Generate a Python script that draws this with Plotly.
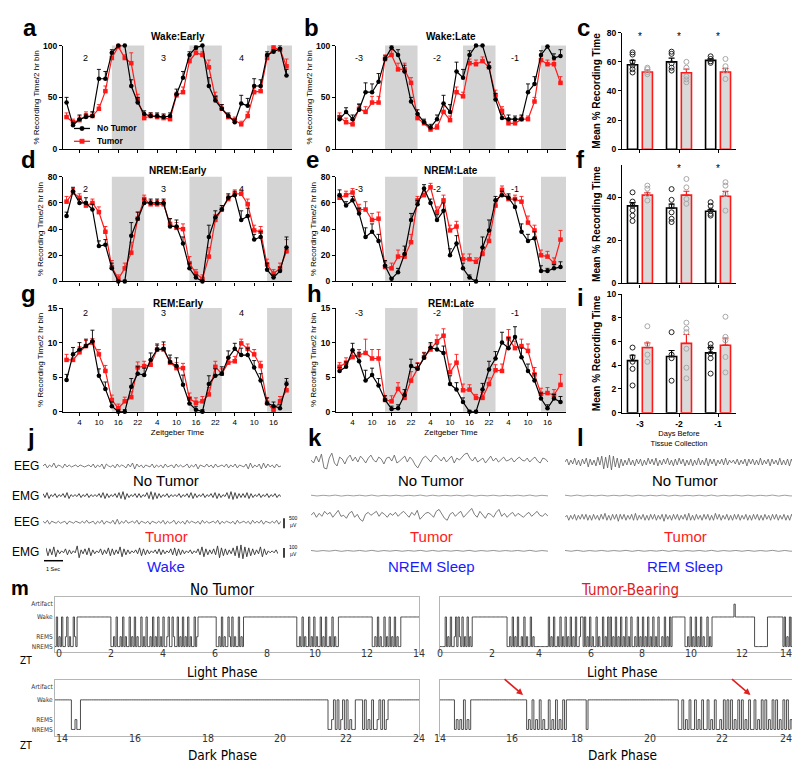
import plotly.graph_objects as go

W, H = 800, 762
FONT = "Liberation Sans, Arial, sans-serif"
NARROW = "Liberation Sans Narrow, Arial Narrow, DejaVu Sans Condensed, sans-serif"
RED = "#ff1a1a"
BLUE = "#1a1aff"
SHADE = "#d4d4d4"
TRACE = "#5a5a5a"

# ---------------- data: 2 hr bins (hours from ZT0 of first recorded day) ----------------
HOURS = list(range(0, 70, 2))
DARK_STARTS = [14, 38, 62]          # ZT14-24 = dark phase
DAY_LABEL_HOURS = [6, 30, 54]
EARLY_DAYS = ["2", "3", "4"]
LATE_DAYS = ["-3", "-2", "-1"]
ZT_TICKS = [4, 10, 16, 22, 28, 34, 40, 46, 52, 58, 64]

a_black = [45, 23, 29, 31, 32, 68, 68, 93, 100, 100, 61, 45, 34, 32, 32, 31, 32, 53, 69, 91, 98, 100, 61, 47, 39, 32, 26, 44, 42, 61, 61, 91, 94, 97, 71]
a_black_err = [5, 3, 4, 3, 4, 9, 7, 3, 1, 1, 6, 5, 3, 3, 3, 3, 3, 5, 6, 3, 2, 1, 8, 4, 4, 3, 3, 8, 7, 7, 6, 3, 2, 3, 6]
a_red = [31, 26, 28, 32, 32, 39, 56, 88, 99, 88, 83, 48, 30, 32, 31, 30, 29, 52, 55, 85, 93, 91, 79, 50, 39, 31, 28, 24, 32, 55, 56, 88, 98, 96, 80]
a_red_err = [4, 3, 4, 4, 4, 4, 5, 4, 1, 3, 10, 5, 3, 3, 3, 3, 3, 3, 5, 3, 3, 3, 7, 5, 4, 3, 3, 3, 4, 4, 4, 3, 2, 2, 7]

b_black = [29, 36, 29, 38, 55, 55, 65, 87, 98, 91, 75, 46, 34, 26, 21, 29, 44, 36, 75, 69, 91, 100, 100, 79, 48, 30, 29, 29, 29, 55, 63, 91, 99, 88, 90]
b_black_err = [3, 4, 4, 5, 9, 8, 8, 3, 2, 5, 6, 4, 4, 3, 3, 4, 8, 7, 9, 8, 4, 1, 1, 5, 6, 4, 4, 3, 4, 8, 7, 4, 3, 4, 6]
b_red = [31, 26, 24, 39, 36, 45, 45, 87, 91, 77, 77, 64, 30, 25, 19, 21, 36, 28, 55, 51, 83, 82, 85, 79, 52, 37, 25, 25, 29, 29, 46, 86, 82, 82, 64]
b_red_err = [4, 4, 4, 5, 5, 6, 6, 4, 4, 6, 6, 5, 4, 3, 3, 3, 5, 4, 5, 4, 4, 4, 4, 5, 5, 4, 3, 3, 3, 3, 4, 4, 4, 4, 6]

d_black = [50, 69, 60, 60, 55, 27, 28, 10, 0, 0, 35, 48, 60, 60, 60, 60, 42, 42, 29, 10, 3, 0, 34, 49, 55, 64, 66, 47, 50, 32, 34, 9, 3, 8, 26]
d_black_err = [3, 3, 3, 4, 4, 4, 4, 4, 1, 1, 10, 5, 3, 3, 3, 3, 6, 5, 5, 4, 2, 1, 9, 5, 3, 3, 3, 7, 6, 4, 4, 5, 2, 3, 8]
d_red = [61, 68, 64, 58, 60, 53, 38, 11, 2, 10, 22, 48, 63, 59, 59, 59, 44, 41, 40, 14, 6, 2, 19, 47, 55, 63, 67, 67, 59, 39, 38, 13, 6, 10, 23]
d_red_err = [4, 3, 3, 3, 3, 4, 4, 5, 3, 4, 8, 5, 3, 3, 3, 3, 4, 4, 4, 5, 3, 3, 7, 4, 3, 3, 3, 3, 4, 4, 4, 4, 3, 4, 9]

e_black = [66, 58, 62, 52, 34, 38, 31, 12, 2, 7, 21, 47, 59, 71, 60, 47, 54, 20, 29, 10, 3, 0, 26, 39, 62, 66, 64, 57, 38, 31, 33, 8, 8, 10, 11]
e_black_err = [4, 3, 3, 4, 7, 6, 5, 4, 1, 3, 6, 5, 3, 3, 3, 4, 6, 5, 6, 4, 2, 1, 8, 8, 3, 3, 3, 6, 6, 5, 5, 4, 2, 3, 4]
e_red = [64, 66, 68, 55, 55, 47, 48, 11, 10, 19, 19, 30, 62, 66, 72, 53, 62, 39, 42, 17, 17, 15, 21, 31, 58, 70, 63, 63, 61, 45, 39, 20, 19, 14, 32]
e_red_err = [3, 3, 3, 4, 6, 5, 5, 4, 4, 5, 5, 6, 3, 3, 3, 4, 4, 4, 4, 4, 4, 3, 5, 5, 4, 3, 3, 3, 4, 5, 4, 4, 4, 4, 7]

g_black = [4.6, 8.3, 9.0, 9.5, 10.2, 5.2, 3.3, 0.8, 0, 0, 3.6, 5.5, 5.3, 7.5, 9.0, 9.1, 7.2, 6.6, 3.9, 1.2, 0.3, 0, 4.0, 5.2, 5.5, 7.8, 9.1, 8.2, 8.2, 6.4, 4.5, 1.2, 0.8, 0.5, 4.0]
g_black_err = [0.8, 1.0, 1.0, 1.0, 1.6, 1.0, 1.0, 0.6, 0.3, 0.3, 1.2, 1.0, 1.0, 1.0, 0.8, 1.0, 1.0, 1.2, 1.4, 0.8, 0.5, 0.3, 1.2, 1.0, 1.0, 1.0, 0.8, 1.0, 1.0, 1.0, 1.0, 0.8, 0.6, 0.5, 0.8]
g_red = [7.5, 7.5, 8.6, 9.5, 10.0, 8.3, 5.9, 1.7, 0.5, 1.5, 2.1, 6.4, 6.6, 6.8, 9.0, 9.0, 7.1, 6.3, 6.3, 1.9, 1.3, 1.5, 2.5, 6.5, 5.5, 7.1, 7.3, 9.9, 9.1, 8.3, 6.6, 1.3, 0.2, 1.5, 3.1]
g_red_err = [0.8, 0.7, 0.8, 0.8, 0.6, 0.7, 0.8, 0.7, 0.6, 0.6, 0.8, 0.8, 0.7, 0.7, 0.6, 0.7, 0.7, 0.8, 0.7, 0.8, 0.7, 0.7, 1.0, 0.8, 0.7, 0.7, 0.7, 0.6, 0.7, 0.7, 0.7, 0.7, 0.6, 0.7, 1.3]

h_black = [5.9, 6.5, 8.9, 7.3, 4.5, 5.3, 3.8, 1.7, 0.4, 0.5, 2.4, 6.6, 6.2, 7.8, 9.3, 9.0, 8.5, 4.0, 3.2, 1.4, 0, 0, 3.2, 6.1, 7.7, 10.0, 9.2, 10.8, 7.9, 5.9, 4.5, 1.9, 0.5, 1.9, 1.4]
h_black_err = [0.5, 0.7, 1.0, 1.3, 1.5, 1.0, 1.0, 0.6, 0.4, 0.5, 0.8, 1.0, 0.8, 0.7, 0.7, 0.8, 1.0, 1.2, 1.0, 0.6, 0.2, 0.2, 0.9, 1.2, 1.0, 1.5, 1.5, 1.5, 1.3, 1.0, 1.0, 0.8, 0.5, 0.6, 0.8]
h_red = [6.5, 7.1, 7.9, 8.2, 8.5, 7.7, 7.7, 1.7, 1.5, 3.3, 2.0, 4.5, 6.3, 7.9, 9.0, 10.2, 11.0, 5.7, 7.1, 3.1, 3.2, 2.0, 2.0, 4.0, 6.0, 5.9, 10.6, 9.2, 9.5, 8.8, 5.4, 2.6, 2.7, 2.4, 3.9]
h_red_err = [0.6, 0.7, 0.7, 0.8, 2.0, 1.3, 1.3, 0.6, 0.8, 0.9, 0.8, 1.3, 0.8, 0.7, 0.8, 0.9, 1.0, 1.2, 1.2, 0.9, 0.7, 0.5, 0.8, 0.9, 0.8, 1.0, 1.3, 1.0, 1.0, 1.0, 1.0, 0.8, 0.8, 0.8, 1.5]

# ---------------- data: daily means (days before tissue collection) ----------------
DAYS_BEFORE = ["-3", "-2", "-1"]

c_black = [58, 60, 61]
c_black_sem = [3, 2.5, 1]
c_black_pts = [[66.5, 65, 60, 57.5, 55, 52.7], [67, 65.5, 59, 56, 54], [63.8, 62, 60.4, 59.3]]
c_red = [53, 52.5, 53]
c_red_sem = [1.5, 2.5, 2.5]
c_red_pts = [[56, 55, 53, 51.5], [60, 56, 50, 48, 46], [62, 57, 53.8, 48.2]]
c_stars = [0, 1, 2]

f_black = [36, 35, 33.5]
f_black_sem = [1.5, 1.8, 0.8]
f_black_pts = [[42.3, 38, 36, 34, 31.5, 29], [43.8, 38.8, 36, 33, 30, 28.5], [37.7, 36, 33.8, 32.3, 31.5]]
f_red = [41, 41, 40.5]
f_red_sem = [1.2, 1.8, 2.2]
f_red_pts = [[45.4, 44, 41.5, 38.5], [48.5, 44.6, 39.2, 37], [47, 45.4, 41.5, 33.8]]
f_stars = [1, 2]

i_black = [4.4, 4.75, 5.05]
i_black_sem = [0.45, 0.5, 0.45]
i_black_pts = [[5.5, 4.7, 4.3, 3.7, 2.3], [6.8, 4.9, 4.6, 2.7], [5.8, 5.5, 5.0, 4.6, 3.3]]
i_red = [5.5, 5.85, 5.7]
i_red_sem = [0.4, 0.75, 0.6]
i_red_pts = [[7.3, 5.8, 4.9, 4.3], [7.6, 7.1, 6.8, 5.4, 3.8, 2.9], [8.1, 6.4, 6.1, 4.7, 3.4]]
i_stars = []

# ---------------- data: example traces (arbitrary units) ----------------
j_eeg_nt = [0, 2, -2, 1, -1, 3, -2, 1, 0, -2, 2, -1, 1, -1, 0, 1, -1, 1, 0, -1, 0, 1, -1, 2, -2, 1, -1, 2, -3, 2, 0, -1, 1, -2, 2, -1, 1, 0, -2, 2,
            -1, 3, -3, 2, -1, 1, -2, 1, 0, -1, 2, -2, 1, -1, 1, -2, 2, -1, 0, 1, -2, 2, -1, 1, -1, 0, 2, -2, 1, -1, 2, -3, 1, 0, -1, 2, -1, 1, -2, 2,
            -1, 0, 1, -1, 2, -2, 1, -1, 2, -2, 1, 0, -1, 2, -3, 3, -2, 1, -1, 2, -3, 3, -2, 2, -1, 1, -2, 2, -1, 0]
j_emg_nt = [2, 3, 1, 2, 1, 2, 3, 1, 1, 2, 1, 2, 1, 1, 2, 3, 2, 1, 2, 3, 4, 2, 1, 2, 2, 1, 3, 4, 3, 2,
            1, 2, 1, 1, 2, 1, 2, 3, 2, 1, 2, 1, 2, 3, 2, 1, 3, 4, 3, 2, 2, 3, 2, 1, 2, 1, 2, 1, 2, 1]
j_eeg_t = [1, -1, 2, -2, 1, 0, -1, 1, -1, 0, 1, -2, 1, 0, -1, 1, 0, -1, 1, -1, 2, -1, 0, 1, -2, 1, -1, 2, -2, 1, 0, -1, 2, -2, 3, -2, 1, -1, 2, -1,
           0, 1, -1, 2, -2, 1, 0, -1, 1, -2, 1, 0, -1, 1, -1, 2, -2, 1, -1, 0, 2, -2, 1, -1, 1, -2, 2, -1, 1, 0, -1, 1, -2, 2, -1, 1, -1, 0, 1, -1,
           2, -2, 1, -1, 1, 0, -1, 1, -2, 2, -1, 0, 1, -1, 1, -2, 2, -1, 1, -1, 2, -2, 1, 0, -1, 1, -1, 2, -2, 1]
j_emg_t = [4, 3, 5, 2, 1, 3, 2, 1, 6, 2, 3, 4, 2, 1, 3, 2, 4, 3, 2, 5, 3, 2, 1, 2, 4, 3, 2, 1, 2, 3,
           2, 1, 3, 4, 3, 2, 1, 2, 1, 3, 5, 3, 2, 3, 6, 4, 3, 2, 4, 6, 7, 5, 4, 3, 2, 5, 3, 1, 1, 2]

k_eeg_nt = [0, -3, 4, -2, 6, -8, -9, 2, 7, -3, -6, 3, 1, -4, 2, 5, -1, 3, -2, 4, 1, -3, 2, 5, 0, -2, 3, 1, -4, 2, 3, -1, 5, -3, -1, 2, 4, -2, 3, 0,
            -5, -8, -3, 2, 4, 1, -2, 3, 5, 2, -1, 3, -2, 1, 4, -3, 2, 0, 3, 6, 7, 2, -1, 3, -2, 0, 2, -3, 1, 4, -1, 2, -2, 1, 3, -1, 0, 2, -2, 1,
            3, 0, -1, 2, -2, 1, 3, -1, -3, 2, 1, -2]
k_eeg_t = [0, 3, -2, 2, -1, 4, 1, 3, -2, 2, 5, -1, 0, -3, 2, 4, -2, 1, -4, -6, 1, 3, 0, 2, 4, -1, 3, 1, -2, 2, 0, 3, -1, 2, 4, 1, -2, 3, 0, 5,
           -4, -1, 2, 3, 1, -2, 4, 6, 2, -3, -5, 1, 3, -1, 2, 4, -2, 1, 3, 7, 1, -2, 4, 0, -3, 2, 1, -2, 3, 6, -1, 2, -2, 1, 3, -1, 2, 0, -2, 1,
           3, -1, 2, 4, 0, -1, 2, -1]
k_emg = [0.4, 0.3, 0.5, 0.3, 0.4, 0.5, 0.3, 0.4, 0.3, 0.5, 0.4, 0.3, 0.4, 0.5, 0.3, 0.4, 0.3, 0.4, 0.5, 0.3]

l_eeg_nt = [0, 3, -3, 2, -2, 4, -3, 2, -4, 3, -2, 4, -5, 3, -3, 2, -4, 5, -3, 6, -7, 5, -6, 7, -8, 6, -5, 4, -6, 3, -4, 2, -3, 4, -3, 2, -4, 3, -2, 3,
            -4, 2, -3, 4, -2, 3, -3, 4, -4, 2, -3, 3, -2, 4, -3, 2, -4, 3, -3, 4, -2, 3, -4, 2, -3, 3, -4, 2, -3, 4, -3, 2, -3, 4, -4, 3, -2, 3, -4, 2,
            -2, 3, -3, 4, -3, 2, -1, 2, -2, 3, -3, 2, -2, 3, -4, 3, -2, 3, -3, 2, -3, 4, -3, 2, -2, 3, -4, 3, -2, 2, -3, 4, -3, 2, -3, 3, -4, 3, -2, 3,
            -3, 2, -3, 4]
l_eeg_t = [0, 2, -3, 2, -2, 3, -3, 2, -2, 3, -2, 3, -3, 2, -3, 3, -2, 2, -3, 3, -2, 4, -3, 2, -3, 3, -2, 3, -4, 3, -2, 3, -3, 2, -2, 3, -3, 4, -3, 2,
           -2, 3, -3, 2, -3, 3, -2, 3, -3, 2, -2, 3, -4, 3, -2, 2, -3, 3, -2, 3, -3, 2, -2, 3, -3, 4, -3, 2, -3, 3, -2, 2, -3, 3, -2, 3, -3, 2, -3, 4,
           -2, 3, -3, 2, -2, 3, -3, 2, -3, 3, -2, 3, -3, 2, -2, 3, -3, 2, -3, 3, -2, 3, -3, 2, -3, 3, -2, 2, -3, 3, -2, 3, -3, 2, -2, 3, -3, 2, -3, 3,
           -2, 3, -3, 2, -2, 3]
l_emg = [0.4, 0.5, 0.3, 0.4, 0.3, 0.5, 0.4, 0.3, 0.5, 0.4, 0.3, 0.4, 0.5, 0.3, 0.4, 0.4, 0.3, 0.5, 0.4, 0.3]

# ---------------- data: hypnograms, one string per hour, 3-min epochs ----------------
EPOCH_H = 0.05
STATE_LEVEL = {"N": 0, "R": 1, "W": 3, "A": 4.3}
STATE_TICKS = [0, 1, 3, 4.3]
STATE_NAMES = ["NREMS", "REMS", "Wake", "Artifact"]

nt_light = ["NWNRNWNNRWNRNNWRNWWW", "WWWWWWWWWWWWWWWWWWWW", "WWWNNRNWNNRNWNRNNWNR", "NWNRNNWNRNWNNRNWNRNW",
            "NRNWNNRWNNWRNNWNRNWN", "RNWNRNNWNRWWWWWWWWWW", "WWWWNNRNWNRNNWRNWNRN", "NWNRNWWWWWWWWWWWWWWW",
            "WWWWWWWWWWWWWWWWWWWW", "WWWWWWNNRNWNRNNWNRNW", "NRNNWNRNWNNRNWNRNNWW", "WWWWWWWWWWWWWWWWWWWW",
            "WWWWNNRNWNRNNWNRNWNR", "NWNRNNWWWWWWWWWWWWWW"]
t_light = ["NNNNWNRNWNNRWNWRNWNR", "NWNRNWWWWWWWWWWWWWWW", "WWWWWWWWWWWWNNRNWNRN", "WNNRNWNRNNWNRNNNNNNN",
           "NNNNWNRNWNNRNWNRNWNR", "NWNRNWNNRWWNWNRNWNRN", "NWNRNNWNRNWNWNRNWNRN", "WNRNWNRNWNNRNWNRNWNR",
           "NWNRNWNRNWNNRNWNRNWN", "WWWWWWWWWWNNRNWNRNWN", "RNWNRNNWNRNWWWWWWWWW", "WWWWWWWWAWWWWWWWWWWW",
           "WWWWNNNNNNNNNNWWWWWW", "WWWWWWNWNRNWNWNRNWNW"]
nt_dark = ["WWWWWWWWWNNRNNWWWWWW", "WWWWWWWWWWWWWWWWWWWW", "WWWWWWWWWWWWWWWWWWWW", "WWWWWWWWWWWWWWWWWWWW",
           "WWWWWWWWWWWWWWWWWWWW", "WWWWWWWWWWWWWWWWWWWW", "WWWWWWWWWWWWWWWWWWWW", "WWWWWWWWWWNNRWNWNRWN",
           "WNRNNWWWWNWNRNWNNRWN", "WNRWWWWWWWWWWWWWWWWW"]
t_dark = ["WWWWWWWWNRNRNWNRNWWW", "WWWWWWWWWWWWWWWWWWWW", "WWWWWWWWNRNWNRNWNRNN", "WNRNWNRNWNWWWWWWWWWW",
          "WNWWWWWWWWWWWWWWWWWW", "WWWWWWWWWWWWWWWWWWWW", "WWWWWWWWWWWWNNWNRNWN", "NWNRNWNNWNRNWNNRNWNW",
          "NWNRNWNWNRNWNNWNRNWN", "WNRNWNWNRNWNWNRNWNWN"]


def xdom(a, b):
    return [a / W, b / W]


def ydom(top, bot):
    return [1 - bot / H, 1 - top / H]


def px(x):
    return x / W


def py(y):
    return 1 - y / H


def ref(n):
    return "" if n == 1 else str(n)


fig = go.Figure()
annotations = []
axis_count = [0]


def new_axis():
    axis_count[0] += 1
    return axis_count[0]


def text(x, y, s, size=12, color="black", bold=False, family=FONT, xanchor="center"):
    annotations.append(dict(x=px(x), y=py(y), xref="paper", yref="paper", text=s, showarrow=False,
                            xanchor=xanchor, yanchor="middle",
                            font=dict(size=size, color=color, family=family, weight="bold" if bold else "normal")))


XR = [-1.1, 69.7]


def ts_panel(xp, yp, yr, ytv, blk, blk_e, red, red_e, title, days, title_y, days_y, show_x):
    n = new_axis()
    xa, ya = "x" + ref(n), "y" + ref(n)
    for d0 in DARK_STARTS:
        fig.add_shape(type="rect", xref=xa, yref=ya + " domain", x0=d0, x1=min(d0 + 10, XR[1]), y0=0, y1=1,
                      fillcolor=SHADE, line_width=0, layer="below")
    fig.add_trace(go.Scatter(x=HOURS, y=red, mode="lines+markers", name="Tumor", showlegend=False,
                             line=dict(color=RED, width=1.2), marker=dict(symbol="square", size=4.5, color=RED),
                             error_y=dict(type="data", symmetric=False, array=red_e, arrayminus=[0] * len(red_e),
                                          color=RED, thickness=0.9, width=2),
                             xaxis=xa, yaxis=ya, cliponaxis=False))
    fig.add_trace(go.Scatter(x=HOURS, y=blk, mode="lines+markers", name="No Tumor", showlegend=False,
                             line=dict(color="black", width=1.2), marker=dict(symbol="circle", size=4.5, color="black"),
                             error_y=dict(type="data", symmetric=False, array=blk_e, arrayminus=[0] * len(blk_e),
                                          color="black", thickness=0.9, width=2),
                             xaxis=xa, yaxis=ya, cliponaxis=False))
    fig.update_layout(**{
        "xaxis" + ref(n): dict(domain=xdom(*xp), anchor=ya, range=XR, showline=True, linecolor="black", linewidth=1.2,
                               ticks="outside", ticklen=3, tickcolor="black", tickvals=ZT_TICKS,
                               ticktext=[str(v % 24) for v in ZT_TICKS], showticklabels=show_x,
                               tickfont=dict(size=8, family=FONT), showgrid=False, zeroline=False,
                               title=dict(text="Zeitgeber Time" if show_x else "", font=dict(size=8, family=FONT),
                                          standoff=3)),
        "yaxis" + ref(n): dict(domain=ydom(*yp), anchor=xa, range=yr, showline=True, linecolor="black", linewidth=1.2,
                               ticks="outside", ticklen=3, tickcolor="black", tickvals=ytv,
                               tickfont=dict(size=8.5, family=FONT, weight="bold"), showgrid=False, zeroline=False,
                               title=dict(text="% Recording Time/2 hr bin", font=dict(size=8, family=FONT), standoff=2)),
    })
    text((xp[0] + xp[1]) / 2, title_y, title, size=10, bold=True)
    for hx, lab in zip(DAY_LABEL_HOURS, days):
        annotations.append(dict(x=hx, y=py(days_y), xref=xa, yref="paper", text=lab, showarrow=False,
                                font=dict(size=9, family=FONT, color="black")))


def bar_panel(xp, yp, yr, ytv, bm, bs, bpts, rm, rs, rpts, stars, star_y, show_x):
    n = new_axis()
    xa, ya = "x" + ref(n), "y" + ref(n)
    off = 0.19
    bx = [g - off for g in range(len(bm))]
    rx = [g + off for g in range(len(rm))]
    fig.add_trace(go.Bar(x=bx, y=bm, width=0.26, marker=dict(color="white", line=dict(color="black", width=1.6)),
                         error_y=dict(type="data", symmetric=False, array=bs, arrayminus=[0] * len(bs),
                                      color="black", thickness=1.2, width=3),
                         xaxis=xa, yaxis=ya, showlegend=False))
    fig.add_trace(go.Bar(x=rx, y=rm, width=0.26, marker=dict(color="#d9d9d9", line=dict(color=RED, width=1.6)),
                         error_y=dict(type="data", symmetric=False, array=rs, arrayminus=[0] * len(rs),
                                      color=RED, thickness=1.2, width=3),
                         xaxis=xa, yaxis=ya, showlegend=False))
    fig.add_trace(go.Scatter(x=[bx[g] for g, pts in enumerate(bpts) for _ in pts], y=[v for pts in bpts for v in pts],
                             mode="markers", marker=dict(symbol="circle-open", size=5, color="#222222", line=dict(width=1)),
                             xaxis=xa, yaxis=ya, showlegend=False))
    fig.add_trace(go.Scatter(x=[rx[g] for g, pts in enumerate(rpts) for _ in pts], y=[v for pts in rpts for v in pts],
                             mode="markers", marker=dict(symbol="circle-open", size=5, color="#a8a8a8", line=dict(width=1)),
                             xaxis=xa, yaxis=ya, showlegend=False))
    fig.update_layout(**{
        "xaxis" + ref(n): dict(domain=xdom(*xp), anchor=ya, range=[-0.46, 2.46], showline=True, linecolor="black",
                               linewidth=1.2, ticks="outside", ticklen=3, tickcolor="black", tickvals=[0, 1, 2],
                               ticktext=DAYS_BEFORE, showticklabels=show_x,
                               tickfont=dict(size=8.5, family=FONT, weight="bold"), showgrid=False, zeroline=False,
                               title=dict(text="Days Before<br>Tissue Collection" if show_x else "",
                                          font=dict(size=7.5, family=FONT), standoff=2)),
        "yaxis" + ref(n): dict(domain=ydom(*yp), anchor=xa, range=yr, showline=True, linecolor="black", linewidth=1.2,
                               ticks="outside", ticklen=3, tickcolor="black", tickvals=ytv,
                               tickfont=dict(size=8.5, family=FONT, weight="bold"), showgrid=False, zeroline=False,
                               title=dict(text="Mean % Recording Time", font=dict(size=10, family=FONT, weight="bold"),
                                          standoff=4)),
    })
    for g in stars:
        annotations.append(dict(x=g, y=py(star_y), xref=xa, yref="paper", text="*", showarrow=False,
                                font=dict(size=10, family=FONT, color="black")))


def signal(x0, x1, yc, vals, half=12, width=0.8, color=TRACE, dash="solid"):
    n = new_axis()
    xa, ya = "x" + ref(n), "y" + ref(n)
    fig.add_trace(go.Scatter(x=list(range(len(vals))), y=vals, mode="lines", hoverinfo="skip",
                             line=dict(color=color, width=width, dash=dash), xaxis=xa, yaxis=ya, showlegend=False))
    fig.update_layout(**{
        "xaxis" + ref(n): dict(domain=xdom(x0, x1), anchor=ya, range=[0, len(vals) - 1], visible=False),
        "yaxis" + ref(n): dict(domain=ydom(yc - half, yc + half), anchor=xa, range=[-half, half], visible=False),
    })


def burst(env):
    return [v * s for v in env for s in (1, -1)]


def hypnogram(xp, yp, yr, start, hours, show_y, label_y, arrows=()):
    n = new_axis()
    xa, ya = "x" + ref(n), "y" + ref(n)
    states = "".join(hours)
    t = [start + i * EPOCH_H for i in range(len(states) + 1)]
    y = [STATE_LEVEL[s] for s in states] + [STATE_LEVEL[states[-1]]]
    fig.add_trace(go.Scatter(x=t, y=y, mode="lines", line=dict(color="#3a3a3a", width=0.9, shape="hv"),
                             hoverinfo="skip", xaxis=xa, yaxis=ya, showlegend=False))
    end = start + len(hours)
    fig.update_layout(**{
        "xaxis" + ref(n): dict(domain=xdom(*xp), anchor=ya, range=[start, end], showline=True, mirror=True,
                               linecolor="#b5b5b5", linewidth=1, ticks="", showticklabels=False,
                               showgrid=False, zeroline=False),
        "yaxis" + ref(n): dict(domain=ydom(*yp), anchor=xa, range=yr, showline=True, mirror=True, linecolor="#b5b5b5",
                               linewidth=1, ticks="", tickvals=STATE_TICKS, ticktext=STATE_NAMES,
                               showticklabels=show_y, tickfont=dict(size=6.5, family=NARROW, color="#333333"),
                               showgrid=False, zeroline=False),
    })
    # hour labels placed along the axis' domain (paper coordinates)
    for tv in range(start, end + 1, 2):
        frac = (tv - start) / (end - start)
        xpx = xp[0] + frac * (xp[1] - xp[0])
        if tv == end and xp[1] > 700:
            xpx -= 8
        annotations.append(dict(x=px(xpx), y=py(label_y), xref="paper", yref="paper", text=str(tv), showarrow=False,
                                borderpad=0, font=dict(size=10.5, family=NARROW, color="#333333")))
    for ax_t in arrows:
        annotations.append(dict(x=ax_t, y=3.5, xref=xa, yref=ya, ax=-20, ay=-17, text="", showarrow=True,
                                arrowhead=2, arrowsize=0.8, arrowwidth=1.6, arrowcolor="#e02020"))


# ---------------- panels a-i ----------------
ts_panel((55, 284), (33, 138), [0, 100], [0, 50, 100], a_black, a_black_err, a_red, a_red_err,
         "Wake:Early", EARLY_DAYS, 24, 38, False)
ts_panel((328, 558), (33, 138), [0, 100], [0, 50, 100], b_black, b_black_err, b_red, b_red_err,
         "Wake:Late", LATE_DAYS, 24, 38, False)
bar_panel((614, 728), (20, 138), [0, 80], [0, 20, 40, 60, 80], c_black, c_black_sem, c_black_pts,
          c_red, c_red_sem, c_red_pts, c_stars, 16, False)
ts_panel((55, 284), (166, 272), [0, 80], [0, 20, 40, 60, 80], d_black, d_black_err, d_red, d_red_err,
         "NREM:Early", EARLY_DAYS, 160, 171, False)
ts_panel((328, 558), (166, 272), [0, 80], [0, 20, 40, 60, 80], e_black, e_black_err, e_red, e_red_err,
         "NREM:Late", LATE_DAYS, 160, 171, False)
bar_panel((614, 728), (154, 274), [0, 55], [0, 20, 40], f_black, f_black_sem, f_black_pts,
          f_red, f_red_sem, f_red_pts, f_stars, 150, False)
ts_panel((55, 284), (299, 404), [0, 15], [0, 5, 10, 15], g_black, g_black_err, g_red, g_red_err,
         "REM:Early", EARLY_DAYS, 294, 304, True)
ts_panel((328, 558), (299, 404), [0, 15], [0, 5, 10, 15], h_black, h_black_err, h_red, h_red_err,
         "REM:Late", LATE_DAYS, 294, 304, True)
bar_panel((614, 728), (285, 405), [0, 10], [0, 2, 4, 6, 8, 10], i_black, i_black_sem, i_black_pts,
          i_red, i_red_sem, i_red_pts, i_stars, 280, True)

# legend inside panel a
for ly, col, sym, lab in [(117, "black", "circle", "No Tumor"), (130, RED, "rect", "Tumor")]:
    fig.add_shape(type="line", xref="paper", yref="paper", x0=px(66), x1=px(82), y0=py(ly), y1=py(ly),
                  line=dict(color=col, width=1.3))
    fig.add_shape(type=sym, xref="paper", yref="paper", x0=px(71.8), x1=px(76.2), y0=py(ly + 2.2), y1=py(ly - 2.2),
                  fillcolor=col, line=dict(color=col, width=0.5))
    text(87, ly, lab, size=8.5, bold=True, xanchor="left")

# ---------------- panels j-l: example EEG / EMG ----------------
signal(35, 273, 459, j_eeg_nt, half=8)
signal(35, 273, 489, burst(j_emg_nt), half=8, width=0.9, color="#333333")
signal(35, 273, 516, j_eeg_t, half=8)
signal(38, 270, 546, burst(j_emg_t), half=8, width=0.9, color="#333333")

signal(303, 540, 453, k_eeg_nt, half=11)
signal(303, 540, 489, burst(k_emg), half=6, width=0.7, color="#777777")
signal(303, 540, 509, k_eeg_t, half=11)
signal(303, 540, 545, burst(k_emg), half=6, width=0.7, color="#666666")

signal(557, 795, 455, l_eeg_nt, half=10)
signal(557, 795, 489, burst(l_emg), half=6, width=0.7, color="#777777")
signal(557, 795, 511, l_eeg_t, half=10)
signal(557, 795, 545, burst(l_emg), half=6, width=0.7, color="#666666")

for lx, ly in [(276, 512), (276, 542)]:
    fig.add_shape(type="line", xref="paper", yref="paper", x0=px(lx), x1=px(lx), y0=py(ly), y1=py(ly + 10),
                  line=dict(color="black", width=1.5))
fig.add_shape(type="line", xref="paper", yref="paper", x0=px(36), x1=px(55), y0=py(555), y1=py(555),
              line=dict(color="black", width=1.5))
text(279, 515, "500<br>µV", size=5, xanchor="left")
text(279, 545, "100<br>µV", size=5, xanchor="left")
text(45, 563, "1 Sec", size=5.5)

for lab, y in [("EEG", 459), ("EMG", 489), ("EEG", 516), ("EMG", 546)]:
    text(33, y, lab, size=12, xanchor="right")
for cx, cond in [(158, "Wake"), (423, "NREM Sleep"), (677, "REM Sleep")]:
    text(cx, 474, "No Tumor", size=15)
    text(cx, 530, "Tumor", size=15, color=RED)
    text(cx, 561, cond, size=15, color=BLUE)

# ---------------- panel m: hypnograms ----------------
hypnogram((47, 411), (592, 648), [-0.6, 5.0], 0, nt_light, True, 656)
hypnogram((432, 793), (592, 648), [-0.6, 5.0], 0, t_light, False, 656)
hypnogram((47, 411), (676, 733), [-0.7, 5.0], 14, nt_dark, True, 742)
hypnogram((432, 793), (676, 733), [-0.7, 5.0], 14, t_dark, False, 742, arrows=(16.3, 22.6))

text(214, 585, "No Tumor", size=15, family=NARROW)
text(622, 585, "Tumor-Bearing", size=15, family=NARROW, color="#e02020")
text(214, 668, "Light Phase", size=13.5, family=NARROW)
text(614, 668, "Light Phase", size=13.5, family=NARROW)
text(214, 752, "Dark Phase", size=13.5, family=NARROW)
text(614, 752, "Dark Phase", size=13.5, family=NARROW)
text(18, 656, "ZT", size=10, family=NARROW)
text(18, 742, "ZT", size=10, family=NARROW)

# panel letters
for letter, x, y in [("a", 22, 15), ("b", 303, 15), ("c", 575, 15), ("d", 20, 148), ("e", 304, 148),
                     ("f", 572, 148), ("g", 20, 284), ("h", 306, 284), ("i", 572, 288), ("j", 23, 430),
                     ("k", 307, 430), ("l", 572, 430)]:
    text(x, y, letter, size=24, bold=True)
text(12, 583, "m", size=20, bold=True)

fig.update_layout(
    width=W, height=H, margin=dict(l=0, r=0, t=0, b=0),
    paper_bgcolor="white", plot_bgcolor="rgba(0,0,0,0)",
    barmode="overlay", annotations=annotations, showlegend=False,
    font=dict(family=FONT, color="black"),
)

fig.write_html("out.html")
